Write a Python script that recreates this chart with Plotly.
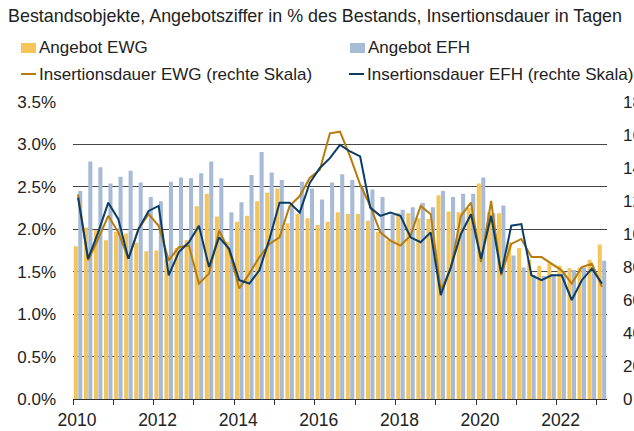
import plotly.graph_objects as go

# ---------------- data ----------------
quarters = [f"{y}Q{q}" for y in range(2010, 2023) for q in range(1, 5)] + ["2023Q1"]

angebot_ewg = [1.80, 2.02, 1.99, 1.87, 1.97, 1.95, 1.84, 1.74, 1.75, 1.65, 1.78, 1.87,
               2.27, 2.42, 2.15, 1.85, 2.09, 2.16, 2.33, 2.43, 2.48, 2.07, 2.18, 2.13,
               2.05, 2.09, 2.20, 2.18, 2.18, 2.10, 1.97, 1.87, 2.19, 2.19, 2.13, 2.12,
               2.40, 2.21, 2.20, 2.25, 2.54, 2.20, 2.19, 1.85, 1.78, 1.64, 1.57, 1.60,
               1.57, 1.54, 1.55, 1.64, 1.82]

angebot_efh = [2.45, 2.80, 2.73, 2.54, 2.62, 2.69, 2.55, 2.38, 2.33, 2.56, 2.61, 2.60,
               2.66, 2.80, 2.60, 2.20, 2.32, 2.64, 2.91, 2.67, 2.58, 2.29, 2.56, 2.48,
               2.35, 2.55, 2.65, 2.58, 2.49, 2.47, 2.38, 2.17, 2.23, 2.26, 2.31, 2.26,
               2.45, 2.38, 2.42, 2.42, 2.61, 2.19, 2.28, 1.69, 1.55, 1.46, 1.45, 1.47,
               1.50, 1.52, 1.55, 1.53, 1.63]

dauer_ewg = [124, 84, 97, 111, 101, 85, 103, 112, 105, 84, 92, 93,
             70, 76, 102, 90, 67, 76, 86, 94, 98, 117, 123, 134,
             139, 161, 162, 147, 130, 117, 101, 96, 93, 99, 117, 112,
             66, 79, 111, 119, 83, 120, 75, 94, 97, 86, 86, 82,
             78, 70, 80, 82, 68]

dauer_efh = [122, 85, 101, 119, 109, 85, 103, 114, 117, 75, 89, 95,
             105, 80, 98, 91, 72, 70, 78, 97, 119, 119, 113, 131,
             140, 146, 154, 150, 147, 116, 111, 113, 111, 98, 95, 101,
             63, 80, 100, 112, 85, 111, 76, 105, 106, 75, 72, 75,
             75, 60, 72, 79, 70]

year_ticks = list(range(2010, 2024))
year_labels = [str(y) if y % 2 == 0 else "" for y in year_ticks]
left_ticks = [0, 0.5, 1.0, 1.5, 2.0, 2.5, 3.0, 3.5]
left_labels = [f"{v:.1f}%" for v in left_ticks]
right_ticks = list(range(0, 181, 20))

title_text = "Bestandsobjekte, Angebotsziffer in % des Bestands, Insertionsdauer in Tagen"
names = ["Angebot EWG", "Angebot EFH",
         "Insertionsdauer EWG (rechte Skala)", "Insertionsdauer EFH (rechte Skala)"]

# ---------------- styling ----------------
C_EWG_BAR = "#F3C55A"
C_EFH_BAR = "#A8BBD6"
C_EWG_LINE = "#B87C0A"
C_EFH_LINE = "#0B3D66"
FONT = "Liberation Sans, Arial, sans-serif"
W, H = 634, 431
ML, MR, MT, MB = 73, 27, 102, 32

x = [int(q[:4]) + (int(q[-1]) - 1) / 4 + 0.125 for q in quarters]

fig = go.Figure()
fig.add_trace(go.Bar(x=x, y=angebot_ewg, name=names[0], marker_color=C_EWG_BAR,
                     marker_line_width=0, yaxis="y"))
fig.add_trace(go.Bar(x=x, y=angebot_efh, name=names[1], marker_color=C_EFH_BAR,
                     marker_line_width=0, yaxis="y"))
fig.add_trace(go.Scatter(x=x, y=dauer_ewg, name=names[2], mode="lines",
                         line=dict(color=C_EWG_LINE, width=2), yaxis="y2"))
fig.add_trace(go.Scatter(x=x, y=dauer_efh, name=names[3], mode="lines",
                         line=dict(color=C_EFH_LINE, width=2), yaxis="y2"))

pw, ph = W - ML - MR, H - MT - MB


def px2x(p):
    return (p - ML) / pw


def px2y(p):
    return (H - MB - p) / ph


shapes = []
annotations = []
# title
annotations.append(dict(text=title_text, x=px2x(6), y=px2y(16), xref="paper", yref="paper",
                        xanchor="left", yanchor="middle", showarrow=False,
                        font=dict(size=17.9, color="#222222", family=FONT)))
# manual legend
leg = [
    (names[0], 21, 48, "bar", C_EWG_BAR),
    (names[1], 350, 48, "bar", C_EFH_BAR),
    (names[2], 21, 74, "line", C_EWG_LINE),
    (names[3], 349, 74, "line", C_EFH_LINE),
]
for txt, lx, ly, kind, col in leg:
    if kind == "bar":
        shapes.append(dict(type="rect", xref="paper", yref="paper",
                           x0=px2x(lx), x1=px2x(lx + 15), y0=px2y(ly - 5), y1=px2y(ly + 5),
                           fillcolor=col, line=dict(width=0)))
    else:
        shapes.append(dict(type="line", xref="paper", yref="paper",
                           x0=px2x(lx), x1=px2x(lx + 15), y0=px2y(ly), y1=px2y(ly),
                           line=dict(color=col, width=2)))
    annotations.append(dict(text=txt, x=px2x(lx + 16), y=px2y(ly), xref="paper", yref="paper",
                            xanchor="left", yanchor="middle", showarrow=False,
                            font=dict(size=17, color="#222222", family=FONT)))

fig.update_layout(
    width=W, height=H,
    margin=dict(l=ML, r=MR, t=MT, b=MB, pad=0),
    paper_bgcolor="white", plot_bgcolor="white",
    font=dict(family=FONT, size=17, color="#222222"),
    showlegend=False,
    barmode="group", bargap=0.12, bargroupgap=0.08,
    shapes=shapes, annotations=annotations,
    xaxis=dict(range=[2010, 2023.25], tickmode="array", tickvals=year_ticks,
               ticktext=year_labels, ticks="outside", ticklen=5, tickwidth=1,
               tickcolor="#333333", showline=True, linecolor="#333333", linewidth=1,
               showgrid=False, zeroline=False, automargin=False, ticklabelshift=4,
               tickfont=dict(size=17.5)),
    yaxis=dict(range=[0, 3.5], tickmode="array", tickvals=left_ticks, ticktext=left_labels,
               showgrid=True, gridcolor="#444444", gridwidth=1, zeroline=False,
               showline=False, ticks="", automargin=False, ticklabelstandoff=16,
               tickfont=dict(size=17)),
    yaxis2=dict(range=[0, 180], tickmode="array", tickvals=right_ticks, overlaying="y",
                side="right", showgrid=False, zeroline=False, showline=False, ticks="",
                automargin=False, ticklabelstandoff=15, tickfont=dict(size=17)),
)

fig.write_html("out.html", config={"displayModeBar": False},
               post_script="document.body.style.margin='0';")
